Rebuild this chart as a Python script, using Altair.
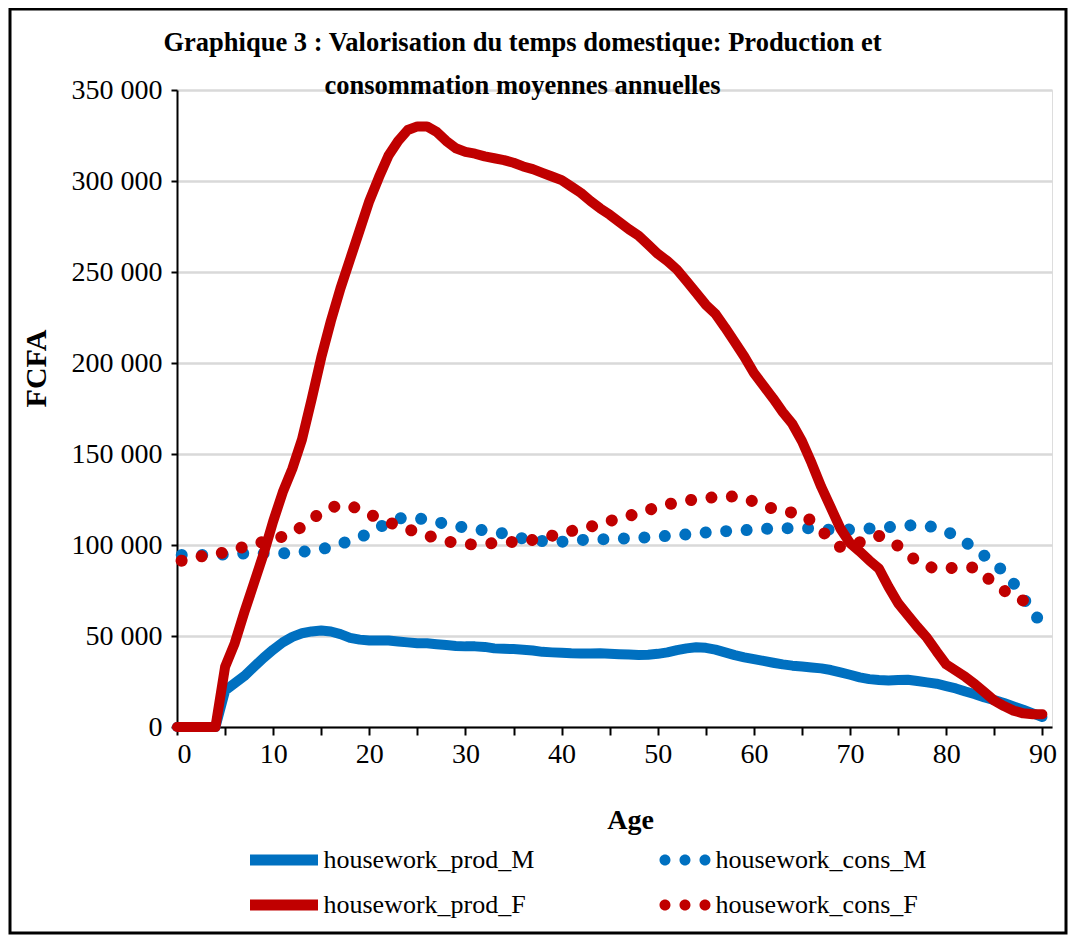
import altair as alt
import pandas as pd

ages = list(range(0, 91))

prod_M = [0, 0, 0, 0, 0,
          20000, 24000, 28000, 33000, 38000,
          42500, 46500, 49500, 51500, 52500,
          53000, 52500, 51000, 49000, 48000,
          47500, 47500, 47500, 47000, 46500,
          46000, 46000, 45500, 45000, 44500,
          44300, 44300, 44000, 43200, 43000,
          42800, 42500, 42000, 41300, 41000,
          40800, 40500, 40400, 40400, 40500,
          40300, 40000, 39800, 39600, 39700,
          40200, 41000, 42200, 43200, 43800,
          43500, 42500, 41000, 39500, 38300,
          37300, 36300, 35300, 34400, 33700,
          33200, 32700, 32200, 31300, 30000,
          28700, 27300, 26300, 25800, 25500,
          25800, 26000, 25300, 24500, 23800,
          22500, 21200, 19500, 18000, 16200,
          14800, 13200, 11300, 9500, 7500,
          5500]

prod_F = [0, 0, 0, 0, 0,
          33000, 46000, 63000, 79000, 95000,
          113000, 129000, 142000, 158000, 180000,
          203000, 223000, 241000, 257000, 273000,
          289000, 302000, 314000, 322000, 328000,
          330000, 330000, 327000, 322000, 318000,
          316000, 315000, 313500, 312500, 311500,
          310000, 308000, 306500, 304500, 302500,
          300500, 297000, 293500, 289000, 285000,
          281500, 277500, 273500, 270000, 265000,
          260000, 256000, 251300, 245000, 238500,
          232000, 227000, 219500, 211500, 203500,
          194500, 187500, 180500, 173000, 166500,
          157000, 145000, 132000, 120500, 109000,
          101000, 96500, 91500, 87000, 77000,
          68000, 61500, 55000, 49000, 41500,
          34400, 31000, 27500, 23500, 19000,
          14500, 11500, 9000, 7500, 7000,
          7000]

cons_M = [94500, 94500, 94500, 94500, 94500,
          94800, 95100, 95400, 95400, 95400,
          95400, 95400, 95800, 96200, 97000,
          97700, 99000, 100500, 102500, 104200,
          106500, 109500, 112500, 114500, 115200,
          114800, 113800, 112700, 111500, 110500,
          109500, 108700, 108000, 107200, 106300,
          105000, 103500, 102500, 102200, 102000,
          101800, 102200, 102700, 103100, 103100,
          103100, 103400, 103700, 104000, 104200,
          104600, 105000, 105400, 105800, 106300,
          106900, 107400, 107600, 107800, 108100,
          108500, 108800, 109200, 109200, 109200,
          109200, 109200, 108800, 108300, 108300,
          108500, 108800, 109100, 109400, 109800,
          110300, 110700, 111000, 110500, 109500,
          107500, 105000, 101500, 98000, 94000,
          90300, 85000, 79000, 71000, 63000,
          56600]

cons_F = [90800, 92000, 93300, 94200, 95000,
          96000, 97500, 99000, 100500, 101800,
          103200, 104600, 107000, 110000, 114000,
          118000, 120500, 122000, 121500, 119700,
          117000, 114500, 112500, 110600, 108800,
          106800, 105200, 103700, 102200, 101000,
          100400, 100300, 100600, 101100, 101500,
          101700, 102000, 102800, 103700, 105100,
          106500, 107700, 108500, 110000, 111700,
          113200, 114500, 116000, 117500, 119200,
          120800, 122300, 123300, 124300, 125200,
          125800, 126300, 126900, 126500, 125800,
          123800, 121500, 120000, 118600, 117800,
          117200, 113000, 108000, 103000, 98800,
          100000, 101500, 103500, 105000, 102500,
          99500, 95000, 90800, 88500, 86800,
          87000, 87700, 87700, 87700, 83000,
          79000, 75000, 71300, 69500, 68000,
          67000]

series_names = ["housework_prod_M", "housework_cons_M", "housework_prod_F", "housework_cons_F"]
series_colors = ["#0070C0", "#0070C0", "#C00000", "#C00000"]

df = pd.DataFrame({
    "age": ages,
    "housework_prod_M": prod_M,
    "housework_cons_M": cons_M,
    "housework_prod_F": prod_F,
    "housework_cons_F": cons_F,
})
long = df.melt("age", var_name="series", value_name="value")

FONT = "Liberation Serif"

x_enc = alt.X(
    "age:Q",
    scale=alt.Scale(domain=[0, 91], nice=False, zero=False),
    axis=alt.Axis(
        values=list(range(0, 91, 5)),
        labelExpr="datum.value % 10 == 0 ? datum.label : ''",
        grid=False,
        title="Age",
        titleFont=FONT, titleFontSize=28, titleFontWeight="bold", titleColor="black",
        titleX=453, titleY=101, titleBaseline="alphabetic", titleAlign="center",
        labelFont=FONT, labelFontSize=28, labelColor="black", labelPadding=5,
        tickColor="black", tickSize=8, tickWidth=2,
        domainColor="black", domainWidth=2,
    ),
)

y_enc = alt.Y(
    "value:Q",
    scale=alt.Scale(domain=[0, 350000], nice=False),
    axis=alt.Axis(
        values=list(range(0, 350001, 50000)),
        labelExpr="replace(format(datum.value, ','), ',', ' ')",
        title="FCFA",
        titleFont=FONT, titleFontSize=30, titleFontWeight="bold", titleColor="black",
        titleAngle=270, titleX=-132, titleY=278, titleBaseline="alphabetic", titleAlign="center",
        labelFont=FONT, labelFontSize=28, labelColor="black", labelPadding=9,
        tickColor="black", tickSize=6, tickWidth=2,
        domainColor="black", domainWidth=2,
        gridColor="#D9D9D9", gridWidth=2.5,
    ),
)

# three round dots, drawn as a custom symbol path in the [-1, 1] box
r = 0.22
dots_path = "".join(
    f"M{c - r:.2f},0A{r},{r} 0 1,0 {c + r:.2f},0A{r},{r} 0 1,0 {c - r:.2f},0Z"
    for c in (-0.8, 0.0, 0.8)
)

legend_pos = {
    "housework_prod_M": (67.5, 730.5),
    "housework_prod_F": (67.5, 775.5),
    "housework_cons_M": (477.5, 739.5),
    "housework_cons_F": (477.5, 784.5),
}

layers = []
for name, color in zip(series_names, series_colors):
    dotted = "cons" in name
    lx, ly = legend_pos[name]
    base = alt.Chart(long).transform_filter(alt.datum.series == name)
    if dotted:
        mark = base.mark_line(strokeWidth=12, strokeDash=[0.01, 20.5], strokeDashOffset=15.8,
                              strokeCap="round", strokeJoin="round")
        legend = alt.Legend(orient="none", legendX=lx, legendY=ly, title=None,
                            symbolType=dots_path, symbolSize=2500, symbolStrokeWidth=11,
                            symbolFillColor=color, symbolDash=[0.01, 1000],
                            labelOffset=0, labelLimit=400,
                            labelFont=FONT, labelFontSize=26, labelColor="black", padding=0)
    else:
        mark = base.mark_line(strokeWidth=10, strokeCap="round", strokeJoin="round")
        legend = alt.Legend(orient="none", legendX=lx, legendY=ly, title=None,
                            symbolType="stroke", symbolSize=4624, symbolStrokeWidth=11,
                            labelOffset=0, labelLimit=400,
                            labelFont=FONT, labelFontSize=26, labelColor="black", padding=0)
    layers.append(mark.encode(
        x=x_enc,
        y=y_enc,
        color=alt.Color("series:N", scale=alt.Scale(domain=[name], range=[color]), legend=legend),
    ))

frame = alt.Chart(pd.DataFrame({"f": [0]})).mark_rect(
    filled=False, stroke="black", strokeWidth=3
).encode(x=alt.value(-167), x2=alt.value(889), y=alt.value(-81), y2=alt.value(843))

chart = alt.layer(*layers, frame).resolve_scale(color="independent").properties(
    width=875,
    height=637,
    autosize=alt.AutoSizeParams(type="none"),
    padding={"left": 169, "top": 82, "right": 16, "bottom": 208},
    title=alt.TitleParams(
        text=["Graphique 3 : Valorisation  du temps domestique: Production et",
              "consommation moyennes annuelles"],
        font=FONT, fontSize=26.5, fontWeight="bold", color="black",
        anchor="middle", dx=-92, dy=113, offset=0, lineHeight=43, baseline="alphabetic",
    ),
).configure_view(strokeWidth=0).configure(background="white")

chart.save("out.html", embed_options={"renderer": "svg", "actions": False})
